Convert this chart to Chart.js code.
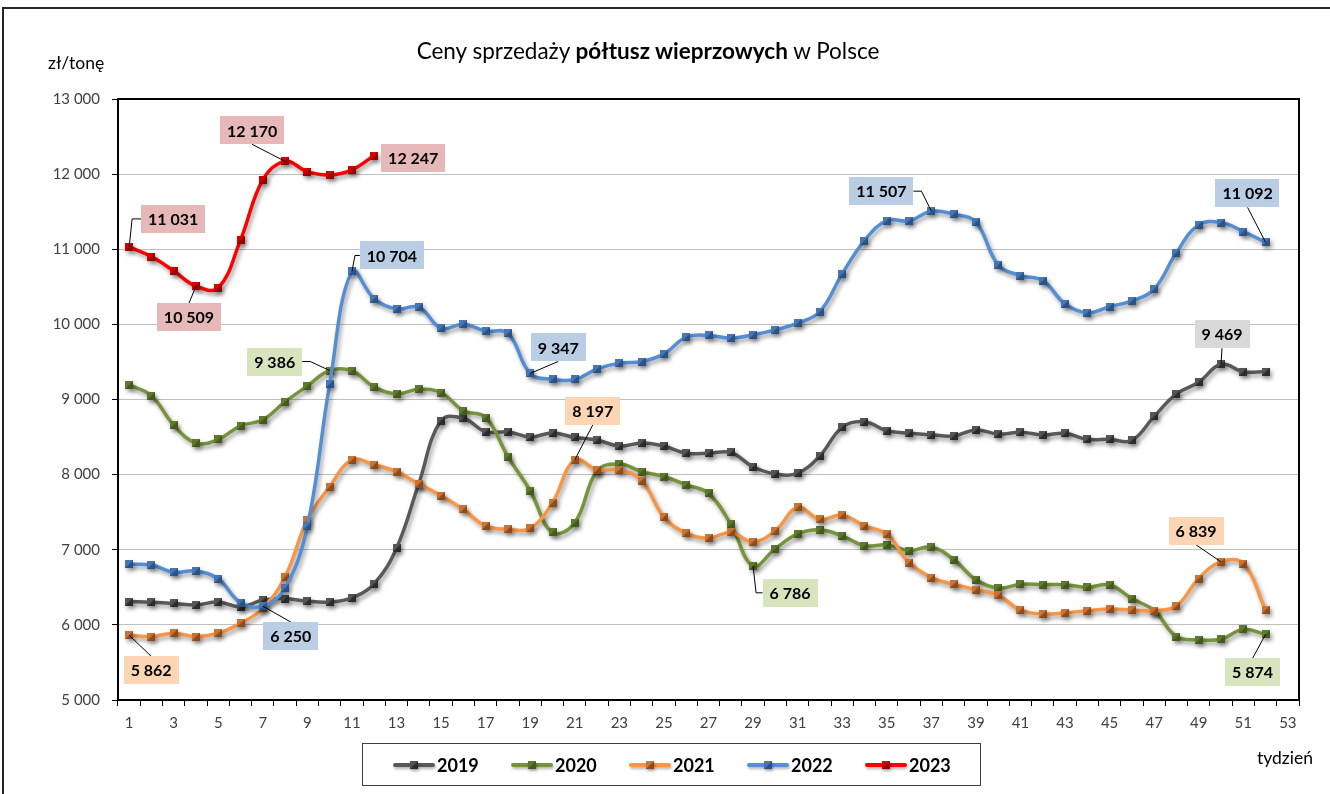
<!DOCTYPE html>
<html><head><meta charset="utf-8">
<script src="https://cdn.jsdelivr.net/npm/chart.js@4.4.1/dist/chart.umd.min.js"></script>
<style>
html,body{margin:0;padding:0;background:#fff;}
#wrap{position:relative;width:1330px;height:794px;overflow:hidden;font-family:Lato,'Open Sans',sans-serif;color:#000;}
#frame{position:absolute;left:2px;top:7px;right:-5px;bottom:-5px;border-top:2px solid #262626;border-left:2px solid #262626;pointer-events:none;}
#title{position:absolute;left:0;width:1296px;top:37px;text-align:center;font-size:22.5px;}
#unit{position:absolute;left:48px;top:52px;font-size:17.5px;}
#xunit{position:absolute;left:1257px;top:747px;font-size:17.5px;}
canvas{position:absolute;left:0;top:0;}
</style></head><body>
<div id="wrap">
<canvas id="c" width="1330" height="794"></canvas>
<div id="frame"></div>
<div id="title">Ceny sprzedaży <b>półtusz wieprzowych</b> w Polsce</div>
<div id="unit">zł/tonę</div>
<div id="xunit">tydzień</div>
</div>
<script>
// ---- data ----
const weeks = ['1','2','3','4','5','6','7','8','9','10','11','12','13','14','15','16','17','18','19','20','21','22','23','24','25','26','27','28','29','30','31','32','33','34','35','36','37','38','39','40','41','42','43','44','45','46','47','48','49','50','51','52','53'];
const years = ['2019','2020','2021','2022','2023'];
const v2019 = [6310,6300,6285,6265,6305,6240,6330,6350,6315,6305,6360,6550,7020,7880,8720,8750,8570,8570,8500,8555,8495,8460,8380,8420,8380,8285,8285,8295,8105,8010,8020,8250,8630,8705,8585,8550,8530,8515,8595,8540,8565,8530,8550,8470,8470,8455,8775,9075,9230,9469,9370,9372];
const v2020 = [9195,9050,8660,8420,8470,8650,8730,8970,9180,9386,9380,9165,9075,9135,9090,8850,8760,8240,7785,7230,7360,8050,8140,8040,7975,7865,7750,7340,6786,7015,7210,7265,7185,7055,7065,6990,7035,6870,6600,6490,6540,6535,6535,6500,6530,6350,6190,5845,5800,5810,5940,5874];
const v2021 = [5862,5845,5890,5845,5890,6020,6220,6640,7400,7840,8195,8130,8040,7875,7720,7537,7317,7273,7286,7628,8197,8063,8063,7921,7434,7221,7154,7230,7105,7252,7563,7403,7460,7318,7207,6830,6630,6541,6470,6394,6198,6145,6162,6189,6211,6198,6189,6252,6617,6839,6816,6198];
const v2022 = [6807,6798,6700,6718,6611,6296,6250,6491,7317,9207,10704,10340,10206,10229,9949,10003,9913,9882,9347,9267,9267,9407,9484,9505,9607,9830,9853,9817,9861,9927,10016,10170,10672,11116,11382,11378,11507,11467,11360,10792,10650,10583,10273,10157,10237,10313,10469,10956,11325,11356,11236,11092];
const v2023 = [11031,10903,10712,10509,10485,11125,11924,12170,12034,11990,12057,12247];
const seriesValues = [v2019, v2020, v2021, v2022, v2023];

// ---- styles ----
const lineColors = ['#595959','#77933C','#F79646','#558ED5','#FF0000'];
const markerLight = ['#555555','#5E7A2E','#C77434','#4676B3','#D40000'];
const markerDark  = ['#2B2B2B','#435A1C','#8E4A18','#2B5285','#9A0000'];
const calloutBg   = ['#D9D9D9','#D7E4BD','#FCD5B5','#B9CDE5','#E6B9B8'];

// callouts: series index, week index, box offset from point, leader style
const callouts = [
  {s:4,i:0,dx:44,dy:-28,leader:'elbowV'},
  {s:4,i:3,dx:-7,dy:31,leader:'straight'},
  {s:4,i:7,dx:-33,dy:-31,leader:'straight'},
  {s:4,i:11,dx:39,dy:2,leader:'none'},
  {s:3,i:10,dx:40,dy:-16,leader:'elbowV'},
  {s:1,i:9,dx:-55,dy:-9,leader:'elbowH'},
  {s:3,i:6,dx:28,dy:30,leader:'straight'},
  {s:2,i:0,dx:22,dy:35,leader:'straight'},
  {s:3,i:18,dx:28,dy:-26,leader:'straight'},
  {s:2,i:20,dx:18,dy:-49,leader:'straight'},
  {s:1,i:28,dx:37,dy:27,leader:'elbowV'},
  {s:3,i:36,dx:-50,dy:-20,leader:'elbowH'},
  {s:3,i:51,dx:-18,dy:-49,leader:'straight'},
  {s:0,i:49,dx:1,dy:-30,leader:'straight'},
  {s:2,i:49,dx:-25,dy:-31,leader:'straight'},
  {s:1,i:51,dx:-13,dy:38,leader:'straight'}
];

const FONT = 'Lato, "Open Sans", sans-serif';
const fmt = v => String(Math.round(v)).replace(/\B(?=(\d{3})+(?!\d))/g, ' ');

function makeMarker(k){
  const c = document.createElement('canvas');
  c.width = 8; c.height = 8;
  const x = c.getContext('2d');
  x.fillStyle = markerDark[k]; x.fillRect(0,0,8,8);
  x.fillStyle = markerLight[k];
  x.beginPath(); x.moveTo(0,0); x.lineTo(8,0); x.lineTo(0,8); x.closePath(); x.fill();
  return c;
}
const markers = years.map((y,k)=>makeMarker(k));

const datasets = years.map((y,k)=>({
  label: y,
  data: seriesValues[k],
  borderColor: lineColors[k],
  backgroundColor: lineColors[k],
  borderWidth: 3.5,
  tension: 0.4,
  pointStyle: markers[k],
  pointRadius: 4,
  pointHoverRadius: 4,
  fill: false,
  order: 5 - k
}));

const shadowPlugin = {
  id:'shadow',
  beforeDatasetsDraw(chart){
    const ctx = chart.ctx; ctx.save();
    ctx.shadowColor = 'rgba(0,0,0,0.38)';
    ctx.shadowBlur = 4; ctx.shadowOffsetX = 2; ctx.shadowOffsetY = 3;
  },
  afterDatasetsDraw(chart){ chart.ctx.restore(); }
};

const framePlugin = {
  id:'frame',
  beforeDatasetsDraw(chart){
    const {ctx, chartArea:a} = chart;
    ctx.save();
    ctx.strokeStyle = '#000'; ctx.lineWidth = 2;
    ctx.strokeRect(a.left, a.top, a.right - a.left, a.bottom - a.top);
    ctx.restore();
  }
};

const calloutPlugin = {
  id:'callouts',
  afterDraw(chart){
    const ctx = chart.ctx;
    ctx.save();
    ctx.font = 'bold 16px ' + FONT;
    ctx.textAlign = 'center'; ctx.textBaseline = 'middle';
    callouts.forEach(c=>{
      const pt = chart.getDatasetMeta(c.s).data[c.i];
      const val = chart.data.datasets[c.s].data[c.i];
      const txt = fmt(val);
      const px = pt.x, py = pt.y;
      const bx = px + c.dx, by = py + c.dy;
      const w = ctx.measureText(txt).width + 14, h = 28;
      ctx.strokeStyle = '#000'; ctx.lineWidth = 1;
      ctx.beginPath();
      if (c.leader === 'straight') {
        const ey = by > py ? by - h/2 : by + h/2;
        ctx.moveTo(px, py); ctx.lineTo(bx, ey);
      } else if (c.leader === 'elbowV') {
        const ex = bx > px ? bx - w/2 : bx + w/2;
        ctx.moveTo(px, py); ctx.lineTo(px + (bx > px ? 3 : -3), by); ctx.lineTo(ex, by);
      } else if (c.leader === 'elbowH') {
        const sgn = px > bx ? 1 : -1;
        const ex = bx + sgn * w/2;
        ctx.moveTo(ex, by); ctx.lineTo(ex + sgn*8, by); ctx.lineTo(px, py);
      }
      ctx.stroke();
      ctx.fillStyle = calloutBg[c.s];
      ctx.fillRect(Math.round(bx - w/2), Math.round(by - h/2), Math.round(w), h);
      ctx.fillStyle = '#000';
      ctx.fillText(txt, bx, by + 1);
    });
    ctx.restore();
  }
};

const legendPlugin = {
  id:'customLegend',
  afterDraw(chart){
    const ctx = chart.ctx;
    ctx.save();
    ctx.strokeStyle = '#404040'; ctx.lineWidth = 1;
    ctx.strokeRect(362.5, 743.5, 618, 42);
    const y = 765;
    chart.data.datasets.forEach((ds,k)=>{
      const x = 395 + k*118;
      ctx.save();
      ctx.shadowColor = 'rgba(0,0,0,0.3)'; ctx.shadowBlur = 3; ctx.shadowOffsetX = 1; ctx.shadowOffsetY = 2;
      ctx.strokeStyle = ds.borderColor; ctx.lineWidth = 4; ctx.lineCap = 'round';
      ctx.beginPath(); ctx.moveTo(x, y); ctx.lineTo(x + 38, y); ctx.stroke();
      ctx.drawImage(markers[k], x + 15, y - 4);
      ctx.restore();
      ctx.fillStyle = '#000';
      ctx.font = 'bold 18px ' + FONT;
      ctx.textAlign = 'left'; ctx.textBaseline = 'middle';
      ctx.fillText(ds.label, x + 42, y + 1);
    });
    ctx.restore();
  }
};

new Chart(document.getElementById('c'), {
  type:'line',
  data:{ labels: weeks, datasets },
  plugins:[framePlugin, shadowPlugin, calloutPlugin, legendPlugin],
  options:{
    responsive:false,
    animation:false,
    events:[],
    layout:{ padding:{ left:0, top:99, right:31, bottom:60 } },
    plugins:{ legend:{display:false}, title:{display:false}, tooltip:{enabled:false} },
    scales:{
      x:{
        type:'category',
        offset:true,
        grid:{ display:true, drawOnChartArea:false, drawTicks:true, tickLength:6, tickColor:'#000', offset:true },
        border:{ display:true, color:'#000', width:2 },
        ticks:{ autoSkip:false, maxRotation:0, minRotation:0, padding:8, color:'#404040',
          font:{ family:FONT, size:15 },
          callback:(v,i)=> i % 2 === 0 ? weeks[i] : '' },
        afterFit:(s)=>{ s.height = 34; }
      },
      y:{
        min:5000, max:13000,
        grid:{ color:'#BFBFBF', lineWidth:1, drawTicks:true, tickLength:6, tickColor:'#000' },
        border:{ display:true, color:'#000', width:2 },
        ticks:{ stepSize:1000, padding:12, color:'#404040', font:{ family:FONT, size:15 },
          callback:(v)=>fmt(v) },
        afterFit:(s)=>{ s.width = 118; }
      }
    }
  }
});
</script>
</body></html>
